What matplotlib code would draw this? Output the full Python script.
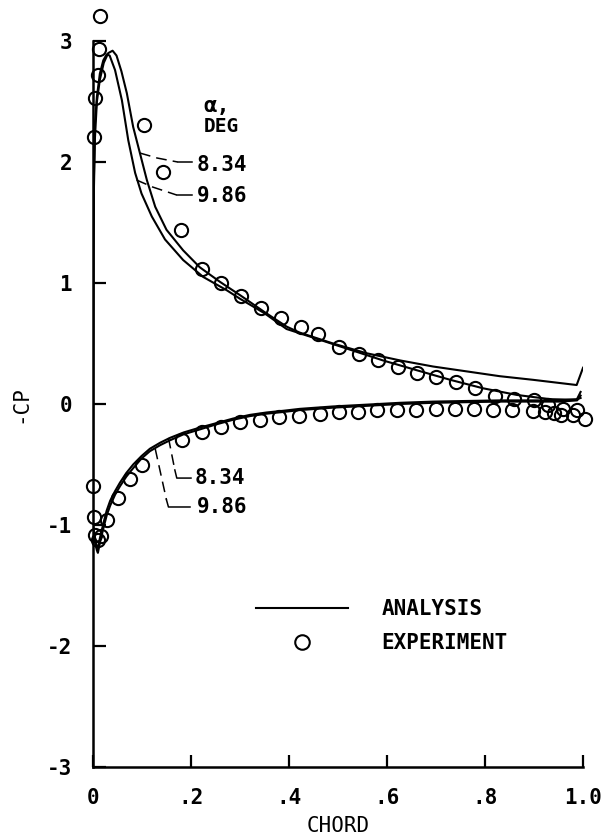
import matplotlib
matplotlib.use('Agg')
import matplotlib.pyplot as plt
from matplotlib.lines import Line2D

matplotlib.rcParams['font.family'] = ['DejaVu Sans Mono', 'DejaVu Sans']
matplotlib.rcParams['font.weight'] = 'bold'
matplotlib.rcParams['axes.unicode_minus'] = False

# experiment, upper surface (chord, -Cp)
up_exp_x = [0.002, 0.005, 0.011, 0.013, 0.015, 0.104, 0.143, 0.180, 0.222, 0.261,
            0.302, 0.342, 0.384, 0.424, 0.460, 0.502, 0.543, 0.581, 0.622, 0.661,
            0.700, 0.740, 0.780, 0.820, 0.859, 0.900, 0.929, 0.960, 0.988]
up_exp_cp = [2.21, 2.53, 2.72, 2.93, 3.21, 2.31, 1.92, 1.44, 1.12, 1.00,
             0.89, 0.79, 0.71, 0.64, 0.58, 0.47, 0.41, 0.36, 0.31, 0.26,
             0.22, 0.18, 0.13, 0.07, 0.04, 0.03, -0.01, -0.04, -0.05]

# experiment, lower surface
lo_exp_x = [0.001, 0.002, 0.005, 0.010, 0.016, 0.028, 0.052, 0.076, 0.099, 0.181,
            0.222, 0.261, 0.300, 0.340, 0.380, 0.420, 0.463, 0.502, 0.541, 0.580,
            0.620, 0.659, 0.700, 0.739, 0.778, 0.817, 0.856, 0.898, 0.922, 0.940,
            0.956, 0.980, 1.004]
lo_exp_cp = [-0.68, -0.93, -1.08, -1.12, -1.09, -0.96, -0.78, -0.62, -0.50, -0.30,
             -0.23, -0.19, -0.15, -0.13, -0.11, -0.10, -0.085, -0.07, -0.065, -0.05,
             -0.05, -0.05, -0.045, -0.045, -0.045, -0.05, -0.05, -0.06, -0.065, -0.075,
             -0.09, -0.09, -0.12]

# analysis, upper surface, alpha = 8.34
up_834_x = [0, 0.0005, 0.001, 0.002, 0.004, 0.008, 0.014, 0.022, 0.031, 0.040, 0.048,
            0.058, 0.069, 0.082, 0.096, 0.110, 0.127, 0.150, 0.184, 0.218, 0.259,
            0.300, 0.350, 0.395, 0.422, 0.490, 0.558, 0.627, 0.694, 0.762, 0.830,
            0.898, 0.987, 1.0]
up_834_cp = [-1.0, 0.3, 1.2, 1.8, 2.2, 2.5, 2.68, 2.82, 2.90, 2.92, 2.88,
             2.75, 2.57, 2.29, 2.07, 1.85, 1.63, 1.44, 1.27, 1.13, 1.01,
             0.90, 0.76, 0.64, 0.59, 0.50, 0.42, 0.36, 0.31, 0.27, 0.23,
             0.20, 0.157, 0.30]

# analysis, upper surface, alpha = 9.86
up_986_x = [0, 0.0005, 0.001, 0.002, 0.004, 0.008, 0.014, 0.021, 0.028, 0.034, 0.045,
            0.059, 0.072, 0.086, 0.099, 0.120, 0.147, 0.184, 0.225, 0.273, 0.300,
            0.350, 0.395, 0.456, 0.524, 0.592, 0.660, 0.729, 0.796, 0.865, 0.933,
            0.987, 0.995]
up_986_cp = [-1.0, 0.3, 1.3, 1.9, 2.32, 2.54, 2.73, 2.84, 2.89, 2.88, 2.76,
             2.51, 2.18, 1.91, 1.74, 1.55, 1.36, 1.19, 1.05, 0.94, 0.87,
             0.75, 0.62, 0.54, 0.45, 0.36, 0.28, 0.20, 0.13, 0.075, 0.04,
             0.035, 0.10]

# analysis, lower surface
lo_x = [0, 0.002, 0.005, 0.008, 0.010, 0.014, 0.021, 0.028, 0.035, 0.045, 0.055,
        0.068, 0.082, 0.099, 0.116, 0.137, 0.157, 0.185, 0.218, 0.250, 0.286,
        0.320, 0.354, 0.390, 0.422, 0.490, 0.559, 0.626, 0.694, 0.760, 0.830,
        0.898, 0.953, 0.988, 0.995]
lo_834_cp = [-1.0, -1.07, -1.14, -1.18, -1.19, -1.11, -0.99, -0.88, -0.80, -0.72, -0.65,
             -0.57, -0.50, -0.43, -0.37, -0.32, -0.28, -0.235, -0.195, -0.16, -0.12,
             -0.09, -0.07, -0.055, -0.04, -0.02, -0.005, 0.01, 0.02, 0.025, 0.03,
             0.03, 0.03, 0.04, 0.05]
lo_986_cp = [-1.0, -1.08, -1.16, -1.21, -1.23, -1.15, -1.03, -0.92, -0.84, -0.75, -0.68,
             -0.60, -0.53, -0.45, -0.39, -0.34, -0.30, -0.25, -0.21, -0.17, -0.13,
             -0.10, -0.08, -0.065, -0.05, -0.03, -0.015, 0.0, 0.01, 0.015, 0.02,
             0.02, 0.02, 0.03, 0.07]

x_ticks = [0, 0.2, 0.4, 0.6, 0.8, 1.0]
x_tick_labels = ['0', '.2', '.4', '.6', '.8', '1.0']
y_ticks = [-3, -2, -1, 0, 1, 2, 3]

fig = plt.figure(figsize=(6.05, 8.39), dpi=100)
ax = fig.add_axes([0.1537, 0.0858, 0.81, 0.8653])

lw = 1.5
for xs, ys in [(up_834_x, up_834_cp), (up_986_x, up_986_cp),
               (lo_x, lo_834_cp), (lo_x, lo_986_cp)]:
    ax.plot(xs, ys, color='black', linewidth=lw, solid_joinstyle='round')

mk = dict(linestyle='none', marker='o', markersize=9.5, markerfacecolor='none',
          markeredgecolor='black', markeredgewidth=1.5, clip_on=False)
ax.plot(up_exp_x, up_exp_cp, **mk)
ax.plot(lo_exp_x, lo_exp_cp, **mk)

# leader lines for the angle labels: dashed part then a short solid tail
dash = dict(color='black', linewidth=1.1, linestyle=(0, (7, 4)))
solid = dict(color='black', linewidth=1.1)
ax.plot([0.096, 0.131, 0.173], [2.074, 2.033, 2.0], **dash)
ax.plot([0.173, 0.202], [2.0, 2.0], **solid)
ax.plot([0.089, 0.122, 0.171], [1.851, 1.793, 1.727], **dash)
ax.plot([0.171, 0.202], [1.727, 1.727], **solid)
ax.plot([0.154, 0.167], [-0.28, -0.545], **dash)
ax.plot([0.167, 0.171, 0.200], [-0.545, -0.612, -0.612], **solid)
ax.plot([0.127, 0.150], [-0.37, -0.793], **dash)
ax.plot([0.150, 0.154, 0.198], [-0.793, -0.851, -0.851], **solid)

fs = 15
ax.text(0.212, 1.975, '8.34', fontsize=fs, va='center', ha='left')
ax.text(0.212, 1.72, '9.86', fontsize=fs, va='center', ha='left')
ax.text(0.208, -0.61, '8.34', fontsize=fs, va='center', ha='left')
ax.text(0.212, -0.85, '9.86', fontsize=fs, va='center', ha='left')
ax.text(0.252, 2.46, 'α,', fontsize=16, va='center', ha='center')
ax.text(0.262, 2.29, 'DEG', fontsize=14, va='center', ha='center')

# legend
handles = [Line2D([], [], color='black', linewidth=lw),
           Line2D([], [], **{k: v for k, v in mk.items() if k != 'clip_on'})]
ax.legend(handles, ['ANALYSIS', 'EXPERIMENT'], loc='upper left',
          bbox_to_anchor=(0.333, 0.231), frameon=False, fontsize=fs,
          handlelength=4.4, handletextpad=1.6, borderpad=0, borderaxespad=0,
          labelspacing=0.65, markerscale=1.1)

ax.set_xlim(0, 1.0)
ax.set_ylim(-3, 3)
ax.set_xticks(x_ticks)
ax.set_xticklabels(x_tick_labels)
ax.set_yticks(y_ticks)
ax.tick_params(direction='in', length=9, width=1.6, labelsize=fs, pad=15)
ax.tick_params(axis='y', pad=15)

for side in ['top', 'right']:
    ax.spines[side].set_visible(False)
for side in ['left', 'bottom']:
    ax.spines[side].set_linewidth(1.8)

ax.set_xlabel('CHORD', fontsize=fs, labelpad=6)
ax.set_ylabel('-CP', fontsize=fs, labelpad=12)

fig.savefig('out.png', dpi=100)
